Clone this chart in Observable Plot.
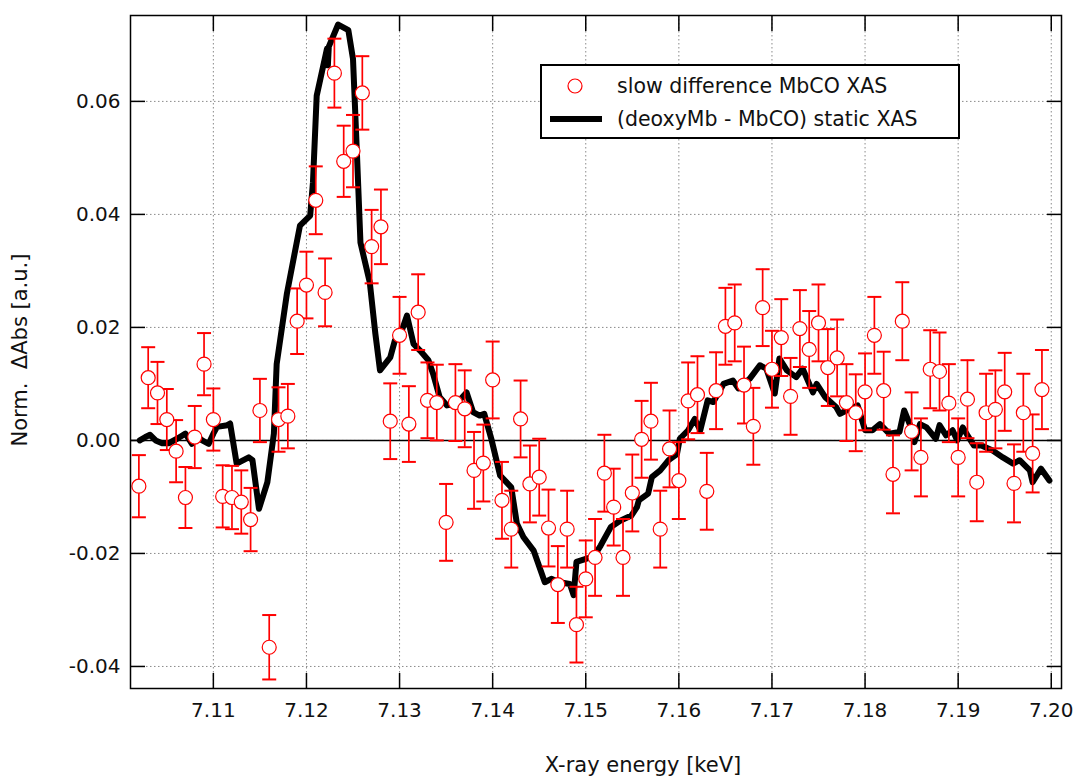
<!DOCTYPE html>
<html>
<head>
<meta charset="utf-8">
<script src="https://cdn.jsdelivr.net/npm/d3@7"></script>
<script src="https://cdn.jsdelivr.net/npm/@observablehq/plot@0.6"></script>
<style>
  html, body { margin: 0; padding: 0; background: #fff; }
  #wrap { position: relative; width: 1078px; height: 778px; }
  #legend {
    position: absolute; left: 540px; top: 64px; width: 416px; height: 71px;
    border: 2px solid #000; background: #fff;
    font-family: "DejaVu Sans", sans-serif; font-size: 20.5px; color: #111;
  }
  #legend .row { position: absolute; left: 0; height: 30px; display: flex; align-items: center; }
  #legend .key { width: 75px; height: 30px; position: relative; }
  #legend svg { position: absolute; left: 0; top: 0; }
</style>
</head>
<body>
<div id="wrap">
  <div id="legend">
    <div class="row" style="top:5px">
      <div class="key"><svg width="75" height="30"><circle cx="33" cy="15" r="7" fill="#fff" stroke="#ff0000" stroke-width="1.2"/></svg></div>
      <span>slow difference MbCO XAS</span>
    </div>
    <div class="row" style="top:38px">
      <div class="key"><svg width="75" height="30"><line x1="8" x2="60" y1="15" y2="15" stroke="#000" stroke-width="6"/></svg></div>
      <span>(deoxyMb - MbCO) static XAS</span>
    </div>
  </div>
</div>
<script>
// Slow difference spectrum (measured points with error bars)
const diffEnergy = [
  7.102, 7.103, 7.104, 7.105, 7.106, 7.107, 7.108, 7.109, 7.110,
  7.111, 7.112, 7.113, 7.114, 7.115, 7.116, 7.117, 7.118, 7.119, 7.120,
  7.121, 7.122, 7.123, 7.124, 7.125, 7.126, 7.127, 7.128, 7.129, 7.130,
  7.131, 7.132, 7.133, 7.134, 7.135, 7.136, 7.137, 7.138, 7.139, 7.140,
  7.141, 7.142, 7.143, 7.144, 7.145, 7.146, 7.147, 7.148, 7.149, 7.150,
  7.151, 7.152, 7.153, 7.154, 7.155, 7.156, 7.157, 7.158, 7.159, 7.160,
  7.161, 7.162, 7.163, 7.164, 7.165, 7.166, 7.167, 7.168, 7.169, 7.170,
  7.171, 7.172, 7.173, 7.174, 7.175, 7.176, 7.177, 7.178, 7.179, 7.180,
  7.181, 7.182, 7.183, 7.184, 7.185, 7.186, 7.187, 7.188, 7.189, 7.190,
  7.191, 7.192, 7.193, 7.194, 7.195, 7.196, 7.197, 7.198, 7.199
];
const diffValue = [
  -0.0081, 0.0111, 0.0084, 0.0037, -0.0019, -0.0101, 0.0006, 0.0135, 0.0037,
  -0.0099, -0.0101, -0.0109, -0.0140, 0.0053, -0.0366, 0.0037, 0.0043, 0.0211, 0.0275,
  0.0425, 0.0262, 0.0650, 0.0494, 0.0512, 0.0615, 0.0343, 0.0378, 0.0034, 0.0186,
  0.0029, 0.0227, 0.0071, 0.0067, -0.0145, 0.0067, 0.0056, -0.0053, -0.0040, 0.0107,
  -0.0106, -0.0157, 0.0038, -0.0077, -0.0065, -0.0155, -0.0255, -0.0157, -0.0326, -0.0245,
  -0.0207, -0.0058, -0.0118, -0.0207, -0.0093, 0.0002, 0.0034, -0.0157, -0.0015, -0.0071,
  0.0070, 0.0081, -0.0090, 0.0088, 0.0202, 0.0208, 0.0098, 0.0025, 0.0235, 0.0126,
  0.0182, 0.0078, 0.0198, 0.0161, 0.0208, 0.0129, 0.0146, 0.0067, 0.0049, 0.0086,
  0.0186, 0.0088, -0.0060, 0.0211, 0.0016, -0.0030, 0.0126, 0.0122, 0.0066, -0.0030,
  0.0073, -0.0074, 0.0049, 0.0055, 0.0086, -0.0076, 0.0049, -0.0023, 0.0090
];
const diffError = [
  0.0055, 0.0054, 0.0055, 0.0054, 0.0055, 0.0054, 0.0055, 0.0055, 0.0055,
  0.0055, 0.0056, 0.0056, 0.0056, 0.0056, 0.0057, 0.0057, 0.0057, 0.0058, 0.0059,
  0.0060, 0.0060, 0.0061, 0.0063, 0.0064, 0.0065, 0.0065, 0.0066, 0.0067, 0.0068,
  0.0067, 0.0067, 0.0067, 0.0067, 0.0068, 0.0068, 0.0068, 0.0068, 0.0068, 0.0068,
  0.0068, 0.0068, 0.0068, 0.0068, 0.0068, 0.0068, 0.0068, 0.0068, 0.0067, 0.0068,
  0.0068, 0.0068, 0.0068, 0.0068, 0.0068, 0.0068, 0.0068, 0.0068, 0.0068, 0.0068,
  0.0068, 0.0068, 0.0068, 0.0068, 0.0068, 0.0068, 0.0068, 0.0068, 0.0068, 0.0068,
  0.0068, 0.0068, 0.0068, 0.0068, 0.0068, 0.0068, 0.0068, 0.0068, 0.0068, 0.0068,
  0.0068, 0.0069, 0.0069, 0.0069, 0.0069, 0.0069, 0.0069, 0.0069, 0.0069, 0.0069,
  0.0069, 0.0069, 0.0069, 0.0069, 0.0069, 0.0069, 0.0069, 0.0069, 0.0070
];

// Static (deoxyMb - MbCO) difference spectrum
const staticEnergy = [
  7.1021, 7.1027, 7.1032, 7.1038, 7.1045, 7.1052, 7.1061, 7.1070, 7.1077, 7.1081,
  7.1088, 7.1095, 7.1100, 7.1104, 7.1115, 7.1118, 7.1125, 7.1138, 7.1142, 7.1149,
  7.1158, 7.1165, 7.1168, 7.1179, 7.1193, 7.1204, 7.1207, 7.1211, 7.1222, 7.1223,
  7.1224, 7.1234, 7.1245, 7.1250, 7.1254, 7.1258, 7.1268, 7.1274, 7.1279, 7.1290,
  7.1295, 7.1300, 7.1308, 7.1315, 7.1322, 7.1331, 7.1336, 7.1343, 7.1351, 7.1361,
  7.1372, 7.1379, 7.1386, 7.1391, 7.1399, 7.1408, 7.1420, 7.1426, 7.1433, 7.1444,
  7.1456, 7.1463, 7.1472, 7.1483, 7.1487, 7.1490, 7.1501, 7.1508, 7.1516, 7.1527,
  7.1537, 7.1549, 7.1555, 7.1557, 7.1567, 7.1571, 7.1580, 7.1589, 7.1598, 7.1601,
  7.1610, 7.1617, 7.1623, 7.1631, 7.1637, 7.1648, 7.1658, 7.1664, 7.1676, 7.1687,
  7.1694, 7.1703, 7.1708, 7.1716, 7.1726, 7.1733, 7.1744, 7.1748, 7.1757, 7.1769,
  7.1773, 7.1780, 7.1792, 7.1800, 7.1808, 7.1816, 7.1826, 7.1837, 7.1842, 7.1848,
  7.1853, 7.1859, 7.1866, 7.1876, 7.1880, 7.1887, 7.1894, 7.1899, 7.1905, 7.1910,
  7.1917, 7.1925, 7.1937, 7.1948, 7.1959, 7.1966, 7.1977, 7.1980, 7.1989, 7.1998
];
const staticValue = [
  0.0000, 0.0006, 0.0010, 0.0000, -0.0005, -0.0005, 0.0003, 0.0012, -0.0006, 0.0009,
  0.0000, -0.0006, 0.0012, 0.0024, 0.0027, 0.0030, -0.0041, -0.0030, -0.0035, -0.0121,
  -0.0074, 0.0012, 0.0135, 0.0260, 0.0380, 0.0398, 0.0457, 0.0610, 0.0693, 0.0664,
  0.0697, 0.0736, 0.0726, 0.0675, 0.0517, 0.0350, 0.0280, 0.0189, 0.0124, 0.0147,
  0.0177, 0.0183, 0.0221, 0.0171, 0.0159, 0.0142, 0.0118, 0.0077, 0.0062, 0.0065,
  0.0085, 0.0050, 0.0044, 0.0047, 0.0000, -0.0062, -0.0083, -0.0147, -0.0171, -0.0195,
  -0.0251, -0.0245, -0.0251, -0.0254, -0.0274, -0.0215, -0.0209, -0.0207, -0.0186, -0.0153,
  -0.0142, -0.0133, -0.0118, -0.0106, -0.0094, -0.0065, -0.0053, -0.0035, -0.0024, 0.0003,
  0.0018, 0.0038, 0.0018, 0.0071, 0.0068, 0.0100, 0.0106, 0.0092, 0.0109, 0.0133,
  0.0127, 0.0083, 0.0145, 0.0124, 0.0112, 0.0127, 0.0085, 0.0100, 0.0077, 0.0059,
  0.0047, 0.0053, 0.0062, 0.0018, 0.0018, 0.0029, 0.0012, 0.0015, 0.0053, 0.0029,
  -0.0003, 0.0029, 0.0023, 0.0003, 0.0027, 0.0009, 0.0018, 0.0000, 0.0023, 0.0009,
  -0.0009, -0.0009, -0.0018, -0.0030, -0.0041, -0.0035, -0.0053, -0.0074, -0.0050, -0.0071
];

const xTicks = [7.11, 7.12, 7.13, 7.14, 7.15, 7.16, 7.17, 7.18, 7.19, 7.20];
const yTicks = [-0.04, -0.02, 0.00, 0.02, 0.04, 0.06];

const diffRows = diffEnergy.map((e, i) => ({e, v: diffValue[i], err: diffError[i]}));
const staticRows = staticEnergy.map((e, i) => ({e, d: staticValue[i]}));

const red = "#ff0000";
const fmt = d => d.toFixed(2);
// horizontal cap for the error bars
const cap = {draw(ctx) { ctx.moveTo(-7, 0); ctx.lineTo(7, 0); }};
const grid = {stroke: "#8a8a8a", strokeOpacity: 1, strokeWidth: 1, strokeDasharray: "1.5,2.5"};
const inward = {tickSize: -15, tickFormat: () => "", label: null, stroke: "#000", strokeWidth: 1.5};
const labelFont = {fontFamily: "DejaVu Sans, sans-serif", fontSize: 21, fill: "#111", textAnchor: "middle", lineAnchor: "middle"};

const chart = Plot.plot({
  width: 1078,
  height: 778,
  marginLeft: 130,
  marginRight: 17,
  marginTop: 15,
  marginBottom: 90,
  x: {domain: [7.1011, 7.2011]},
  y: {domain: [-0.0439, 0.0752]},
  style: {fontFamily: "DejaVu Sans, sans-serif", fontSize: "20px", color: "#111", background: "#fff"},
  marks: [
    Plot.gridX(xTicks, grid),
    Plot.gridY(yTicks, grid),
    Plot.ruleY([0], {stroke: "#000", strokeWidth: 1.5}),
    Plot.line(staticRows, {x: "e", y: "d", stroke: "#000", strokeWidth: 6, strokeLinejoin: "round", strokeLinecap: "round"}),
    Plot.ruleX(diffRows, {x: "e", y1: d => d.v - d.err, y2: d => d.v + d.err, stroke: red, strokeWidth: 1.7}),
    Plot.dot(diffRows, {x: "e", y: d => d.v - d.err, symbol: cap, fill: "none", stroke: red, strokeWidth: 2}),
    Plot.dot(diffRows, {x: "e", y: d => d.v + d.err, symbol: cap, fill: "none", stroke: red, strokeWidth: 2}),
    Plot.dot(diffRows, {x: "e", y: "v", r: 7, fill: "#fff", stroke: red, strokeWidth: 1.2}),
    Plot.frame({stroke: "#000", strokeWidth: 1.5}),
    Plot.axisX(xTicks, {anchor: "bottom", ...inward}),
    Plot.axisX(xTicks, {anchor: "top", ...inward}),
    Plot.axisY(yTicks, {anchor: "left", ...inward}),
    Plot.axisY(yTicks, {anchor: "right", ...inward}),
    Plot.axisX(xTicks, {anchor: "bottom", tickSize: 0, tickPadding: 14, tickFormat: fmt, label: null}),
    Plot.axisY(yTicks, {anchor: "left", tickSize: 0, tickPadding: 10, tickFormat: fmt, label: null}),
    Plot.text(["X-ray energy [keV]"], {frameAnchor: "bottom", dx: 47, dy: 77, ...labelFont}),
    Plot.text(["Norm.  \u0394Abs [a.u.]"], {frameAnchor: "left", rotate: -90, dx: -110, dy: -2, ...labelFont})
  ]
});

document.getElementById("wrap").prepend(chart);
</script>
</body>
</html>
